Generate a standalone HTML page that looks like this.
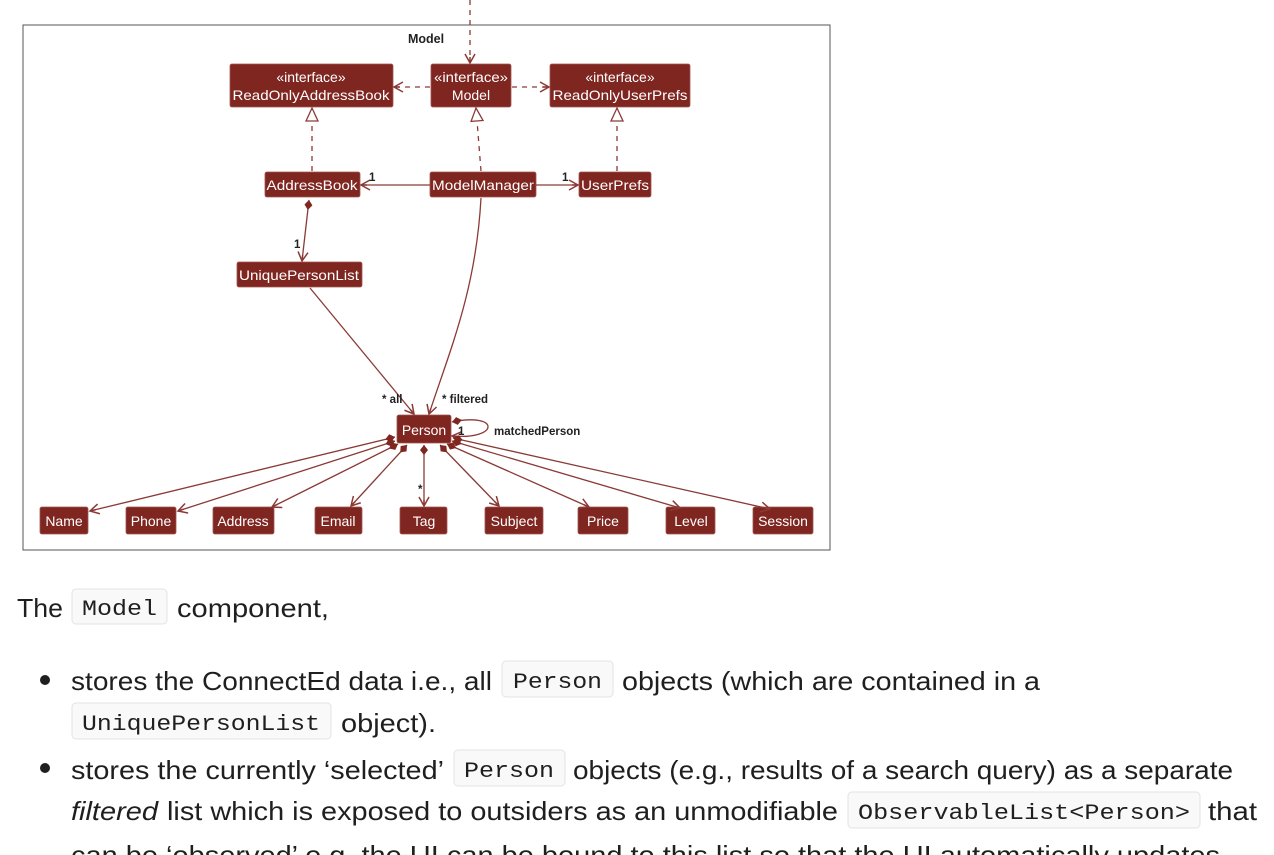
<!DOCTYPE html>
<html><head><meta charset="utf-8"><style>
html,body{margin:0;padding:0;background:#fff;width:1274px;height:855px;overflow:hidden}
svg{display:block}
.b{fill:#7f2621;stroke:#a05550;stroke-width:0.8}
.t{font-family:"Liberation Sans",sans-serif;font-size:14px;fill:#fff;text-anchor:middle}
.l{stroke:#8a3a36;stroke-width:1.3;fill:none}
.d{stroke-dasharray:5,5}
.lab{font-family:"Liberation Sans",sans-serif;font-size:11.5px;font-weight:bold;fill:#222}
.p{font-family:"Liberation Sans",sans-serif;font-size:26px;fill:#1f1f1f}
.c{font-family:"Liberation Mono",monospace;font-size:22px;fill:#1f1f1f}
.cb{fill:#f9f9f9;stroke:#e3e3e3;stroke-width:1}
</style></head><body>
<svg width="1274" height="855" viewBox="0 0 1274 855">
<defs>
<marker id="a" markerWidth="12" markerHeight="12" refX="10" refY="6" orient="auto" markerUnits="userSpaceOnUse"><path d="M1,1 L10,6 L1,11 M10,6 L4,6" fill="none" stroke="#8a3a36" stroke-width="1.5"/></marker>
<marker id="tri" markerWidth="16" markerHeight="16" refX="14" refY="7" orient="auto" markerUnits="userSpaceOnUse"><path d="M1,1 L14,7 L1,13 Z" fill="#fff" stroke="#8a3a36" stroke-width="1.3"/></marker>
<marker id="dm" markerWidth="16" markerHeight="12" refX="1" refY="5" orient="auto" markerUnits="userSpaceOnUse"><path d="M1,5 L6,1 L11,5 L6,9 Z" fill="#7f2621"/></marker>
</defs>
<rect x="23" y="25" width="807" height="525" fill="#fff" stroke="#555" stroke-width="1"/>
<text x="426" y="43" class="lab" style="font-size:12.5px" text-anchor="middle">Model</text>
<line x1="470" y1="0" x2="470" y2="63" class="l d" marker-end="url(#a)"/>
<rect class="b" x="230" y="64" width="163" height="43" rx="2"/>
<text class="t" x="311" y="82">«interface»</text><text class="t" x="311" y="100" textLength="157" lengthAdjust="spacingAndGlyphs">ReadOnlyAddressBook</text>
<rect class="b" x="431" y="64" width="80" height="43" rx="2"/>
<text class="t" x="471" y="82" textLength="74" lengthAdjust="spacingAndGlyphs">«interface»</text><text class="t" x="471" y="100">Model</text>
<rect class="b" x="550" y="64" width="140" height="43" rx="2"/>
<text class="t" x="620" y="82">«interface»</text><text class="t" x="620" y="100" textLength="135" lengthAdjust="spacingAndGlyphs">ReadOnlyUserPrefs</text>
<rect class="b" x="265" y="172" width="95" height="25" rx="2"/><text class="t" x="312" y="190" textLength="91" lengthAdjust="spacingAndGlyphs">AddressBook</text>
<rect class="b" x="430" y="172" width="106" height="25" rx="2"/><text class="t" x="483" y="190" textLength="102" lengthAdjust="spacingAndGlyphs">ModelManager</text>
<rect class="b" x="579" y="172" width="72" height="25" rx="2"/><text class="t" x="615" y="190" textLength="68" lengthAdjust="spacingAndGlyphs">UserPrefs</text>
<rect class="b" x="237" y="262" width="125" height="25" rx="2"/><text class="t" x="299" y="280" textLength="120" lengthAdjust="spacingAndGlyphs">UniquePersonList</text>
<rect class="b" x="397" y="415" width="54" height="28" rx="2"/><text class="t" x="424" y="435">Person</text>
<line x1="430" y1="87" x2="394" y2="87" class="l d" marker-end="url(#a)"/>
<line x1="512" y1="87" x2="549" y2="87" class="l d" marker-end="url(#a)"/>
<line x1="312" y1="171" x2="312" y2="108" class="l d" marker-end="url(#tri)"/>
<line x1="481" y1="171" x2="476" y2="108" class="l d" marker-end="url(#tri)"/>
<line x1="617" y1="171" x2="617" y2="108" class="l d" marker-end="url(#tri)"/>
<line x1="430" y1="185" x2="361" y2="185" class="l" marker-end="url(#a)"/>
<text class="lab" x="369" y="181">1</text>
<line x1="536" y1="185" x2="578" y2="185" class="l" marker-end="url(#a)"/>
<text class="lab" x="562" y="181">1</text>
<line x1="309" y1="200" x2="302" y2="261" class="l" marker-start="url(#dm)" marker-end="url(#a)"/>
<text class="lab" x="294" y="248">1</text>
<line x1="310" y1="288" x2="414" y2="414" class="l" marker-end="url(#a)"/>
<text class="lab" x="382" y="403">* all</text>
<path d="M481,198 C476,290 450,350 429,414" class="l" marker-end="url(#a)"/>
<text class="lab" x="442" y="403">* filtered</text>
<path d="M452,422 C500,412 500,440 452,436" class="l" marker-start="url(#dm)" marker-end="url(#a)"/>
<text class="lab" x="458" y="435">1</text>
<text class="lab" x="494" y="435">matchedPerson</text>
<g>
<rect class="b" x="40" y="507" width="48" height="27" rx="2"/><text class="t" x="64" y="526">Name</text>
<rect class="b" x="126" y="507" width="50" height="27" rx="2"/><text class="t" x="151" y="526">Phone</text>
<rect class="b" x="213" y="507" width="61" height="27" rx="2"/><text class="t" x="243" y="526">Address</text>
<rect class="b" x="315" y="507" width="47" height="27" rx="2"/><text class="t" x="338" y="526">Email</text>
<rect class="b" x="400" y="507" width="47" height="27" rx="2"/><text class="t" x="424" y="526">Tag</text>
<rect class="b" x="485" y="507" width="58" height="27" rx="2"/><text class="t" x="514" y="526">Subject</text>
<rect class="b" x="578" y="507" width="50" height="27" rx="2"/><text class="t" x="603" y="526">Price</text>
<rect class="b" x="666" y="507" width="49" height="27" rx="2"/><text class="t" x="691" y="526">Level</text>
<rect class="b" x="753" y="507" width="60" height="27" rx="2"/><text class="t" x="783" y="526">Session</text>
</g>
<line x1="395" y1="437" x2="90" y2="511" class="l" marker-start="url(#dm)" marker-end="url(#a)"/>
<line x1="395" y1="441" x2="178" y2="511" class="l" marker-start="url(#dm)" marker-end="url(#a)"/>
<line x1="398" y1="444" x2="272" y2="507" class="l" marker-start="url(#dm)" marker-end="url(#a)"/>
<line x1="407" y1="445" x2="351" y2="506" class="l" marker-start="url(#dm)" marker-end="url(#a)"/>
<line x1="424" y1="445" x2="424" y2="506" class="l" marker-start="url(#dm)" marker-end="url(#a)"/>
<text class="lab" x="418" y="493">*</text>
<line x1="440" y1="445" x2="499" y2="506" class="l" marker-start="url(#dm)" marker-end="url(#a)"/>
<line x1="447" y1="444" x2="589" y2="507" class="l" marker-start="url(#dm)" marker-end="url(#a)"/>
<line x1="452" y1="441" x2="680" y2="508" class="l" marker-start="url(#dm)" marker-end="url(#a)"/>
<line x1="453" y1="438" x2="770" y2="509" class="l" marker-start="url(#dm)" marker-end="url(#a)"/>

<text class="p" x="17" y="617" textLength="46" lengthAdjust="spacingAndGlyphs">The</text>
<rect class="cb" x="72" y="589" width="95" height="35" rx="4"/>
<text class="c" x="82" y="615" textLength="75" lengthAdjust="spacingAndGlyphs">Model</text>
<text class="p" x="177" y="617" textLength="152" lengthAdjust="spacingAndGlyphs">component,</text>

<circle cx="45" cy="680" r="5" fill="#1f1f1f"/>
<text class="p" x="71" y="690" textLength="421" lengthAdjust="spacingAndGlyphs">stores the ConnectEd data i.e., all</text>
<rect class="cb" x="502" y="661" width="111" height="36" rx="4"/>
<text class="c" x="513" y="688" textLength="89" lengthAdjust="spacingAndGlyphs">Person</text>
<text class="p" x="622" y="690" textLength="418" lengthAdjust="spacingAndGlyphs">objects (which are contained in a</text>

<rect class="cb" x="72" y="703" width="259" height="36" rx="4"/>
<text class="c" x="82" y="730" textLength="238" lengthAdjust="spacingAndGlyphs">UniquePersonList</text>
<text class="p" x="341" y="732" textLength="95" lengthAdjust="spacingAndGlyphs">object).</text>

<circle cx="45" cy="768" r="5" fill="#1f1f1f"/>
<text class="p" x="71" y="779" textLength="373" lengthAdjust="spacingAndGlyphs">stores the currently ‘selected’</text>
<rect class="cb" x="454" y="750" width="111" height="36" rx="4"/>
<text class="c" x="464" y="777" textLength="90" lengthAdjust="spacingAndGlyphs">Person</text>
<text class="p" x="573" y="779" textLength="660" lengthAdjust="spacingAndGlyphs">objects (e.g., results of a search query) as a separate</text>

<text class="p" x="71" y="820" font-style="italic" textLength="87" lengthAdjust="spacingAndGlyphs">filtered</text>
<text class="p" x="167" y="820" textLength="671" lengthAdjust="spacingAndGlyphs">list which is exposed to outsiders as an unmodifiable</text>
<rect class="cb" x="848" y="792" width="352" height="36" rx="4"/>
<text class="c" x="858" y="819" textLength="332" lengthAdjust="spacingAndGlyphs">ObservableList&lt;Person&gt;</text>
<text class="p" x="1208" y="820" textLength="49" lengthAdjust="spacingAndGlyphs">that</text>

<text class="p" x="71" y="864" textLength="1149" lengthAdjust="spacingAndGlyphs">can be ‘observed’ e.g. the UI can be bound to this list so that the UI automatically updates</text>
</svg>
</body></html>
